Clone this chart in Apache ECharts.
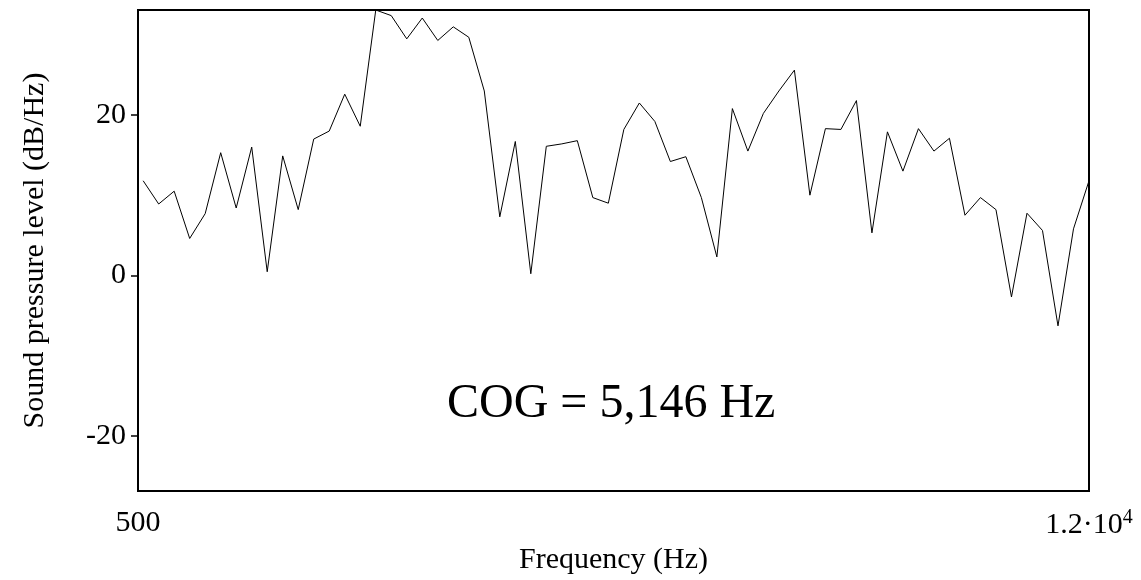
<!DOCTYPE html>
<html>
<head>
<meta charset="utf-8">
<script src="https://cdn.jsdelivr.net/npm/echarts@6/dist/echarts.min.js"></script>
<style>
html,body{margin:0;padding:0;background:#fff;}
#chart{width:1141px;height:580px;}
</style>
</head>
<body>
<div id="chart"></div>
<script>
// Spectrum bins (Hz)
var frequencies = [562.5, 750, 937.5, 1125, 1312.5, 1500, 1687.5, 1875, 2062.5, 2250,
  2437.5, 2625, 2812.5, 3000, 3187.5, 3375, 3562.5, 3750, 3937.5, 4125,
  4312.5, 4500, 4687.5, 4875, 5062.5, 5250, 5437.5, 5625, 5812.5, 6000,
  6187.5, 6375, 6562.5, 6750, 6937.5, 7125, 7312.5, 7500, 7687.5, 7875,
  8062.5, 8250, 8437.5, 8625, 8812.5, 9000, 9187.5, 9375, 9562.5, 9750,
  9937.5, 10125, 10312.5, 10500, 10687.5, 10875, 11062.5, 11250, 11437.5, 11625,
  11812.5, 12000];
// Sound pressure level (dB/Hz)
var levels = [11.8, 8.9, 10.5, 4.6, 7.7, 15.3, 8.4, 16.0, 0.45, 14.9,
  8.2, 17.0, 18.0, 22.6, 18.6, 33.1, 32.4, 29.5, 32.1, 29.3,
  31.0, 29.7, 23.0, 7.3, 16.7, 0.2, 16.1, 16.4, 16.8, 9.7,
  9.0, 18.2, 21.5, 19.2, 14.2, 14.8, 9.7, 2.3, 20.8, 15.5,
  20.2, 23.0, 25.6, 10.0, 18.3, 18.2, 21.8, 5.3, 17.9, 13.0,
  18.3, 15.5, 17.1, 7.5, 9.7, 8.2, -2.7, 7.75, 5.6, -6.3,
  5.8, 11.8];
var xTicks = [500, 12000];
var yTicks = [-20, 0, 20];
var xRange = [500, 12000];
var yRange = [-26.9, 33.1];
var annotation = 'COG = 5,146 Hz';

var FONT = '"Liberation Serif", "Times New Roman", serif';
var chart = echarts.init(document.getElementById('chart'), null, {renderer: 'canvas'});
var data = frequencies.map(function (f, i) { return [f, levels[i]]; });

chart.setOption({
  animation: false,
  backgroundColor: '#fff',
  grid: {
    left: 138, right: 52, top: 10, bottom: 82,
    show: true, borderColor: '#000', borderWidth: 2, backgroundColor: 'transparent'
  },
  xAxis: {
    type: 'value', min: xRange[0], max: xRange[1],
    splitLine: {show: false},
    axisLine: {show: false},
    axisTick: {show: true, inside: false, length: 8, customValues: xTicks, lineStyle: {color: '#000', width: 1.5}},
    axisLabel: {
      show: true, customValues: xTicks, margin: 17, color: '#000', fontFamily: FONT, fontSize: 30,
      formatter: function (v) { return v === 500 ? '500' : '{b|1.2·10}{s|4}'; },
      rich: {
        b: {fontFamily: FONT, fontSize: 30, color: '#000'},
        s: {fontFamily: FONT, fontSize: 20, color: '#000', verticalAlign: 'top', padding: [0, 0, 14, 0]}
      }
    },
    name: 'Frequency (Hz)', nameLocation: 'middle', nameGap: 54,
    nameTextStyle: {fontFamily: FONT, fontSize: 30, color: '#000'}
  },
  yAxis: {
    type: 'value', min: yRange[0], max: yRange[1],
    splitLine: {show: false},
    axisLine: {show: false},
    axisTick: {show: true, inside: false, length: 7, customValues: yTicks, lineStyle: {color: '#000', width: 1.5}},
    axisLabel: {show: true, customValues: yTicks, margin: 12, color: '#000', fontFamily: FONT, fontSize: 30},
    name: 'Sound pressure level (dB/Hz)', nameLocation: 'middle', nameGap: 88,
    nameTextStyle: {fontFamily: FONT, fontSize: 30, color: '#000'}
  },
  graphic: [{
    type: 'text', left: 611 - 164, top: 380,
    style: {text: annotation, font: '48px ' + FONT, fill: '#000'}
  }],
  series: [{
    type: 'line', data: data, showSymbol: false, clip: false,
    lineStyle: {color: '#000', width: 1}
  }]
});
</script>
</body>
</html>
